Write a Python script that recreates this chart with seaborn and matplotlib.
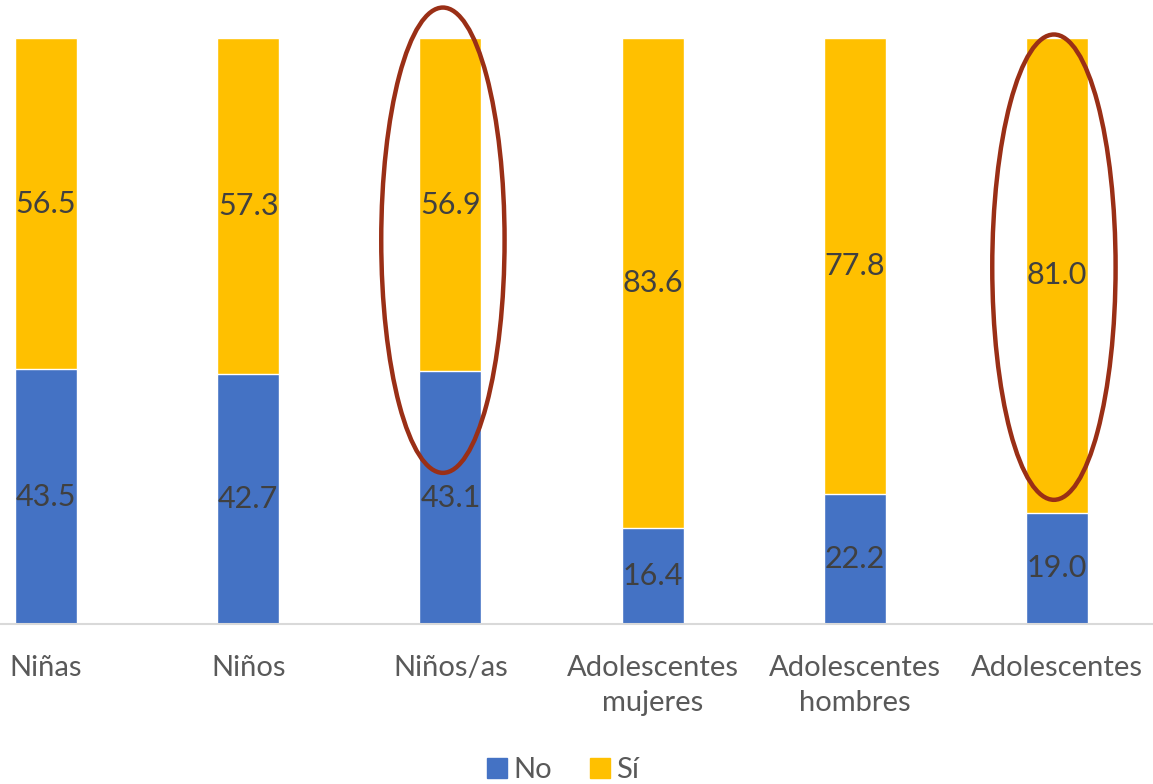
import matplotlib
matplotlib.use("Agg")
import matplotlib.pyplot as plt
from matplotlib.patches import Ellipse
from matplotlib.lines import Line2D
import numpy as np
import pandas as pd
import seaborn as sns

# datos
categorias = ['Niñas', 'Niños', 'Niños/as', 'Adolescentes\nmujeres', 'Adolescentes\nhombres', 'Adolescentes']
valores_no = [43.5, 42.7, 43.1, 16.4, 22.2, 19.0]
valores_si = [56.5, 57.3, 56.9, 83.6, 77.8, 81.0]

COLOR_NO = '#4472C4'
COLOR_SI = '#FFC000'
COLOR_TXT = '#404040'
COLOR_ELIPSE = '#9A2F16'

sns.set_style('white')
plt.rcParams['font.family'] = ['Lato', 'DejaVu Sans']

df = pd.DataFrame({'cat': categorias, 'No': valores_no, 'Si': valores_si})
df['total'] = df['No'] + df['Si']

fig = plt.figure(figsize=(11.53, 7.84), dpi=100)
ax = fig.add_axes([0, 0.204, 1, 0.7475])

# barras apiladas: total en amarillo, "No" encima desde la base
sns.barplot(data=df, x='cat', y='total', color=COLOR_SI, width=0.307, saturation=1, ax=ax)
sns.barplot(data=df, x='cat', y='No', color=COLOR_NO, width=0.307, saturation=1, ax=ax)

for i, (n, s) in enumerate(zip(valores_no, valores_si)):
    ax.text(i, n / 2, f'{n:.1f}', ha='center', va='center', fontsize=22, color=COLOR_TXT)
    ax.text(i, n + s / 2, f'{s:.1f}', ha='center', va='center', fontsize=22, color=COLOR_TXT)

ax.set_xlim(-0.2275, 5.475)
ax.set_ylim(0, 100)
ax.set_xlabel('')
ax.set_ylabel('')
ax.set_yticks([])
ax.tick_params(axis='x', length=0, labelsize=21, labelcolor='#595959', pad=22)
for lbl in ax.get_xticklabels():
    lbl.set_linespacing(1.45)
for side in ['left', 'right', 'top']:
    ax.spines[side].set_visible(False)
ax.spines['bottom'].set_color('#D9D9D9')
ax.spines['bottom'].set_linewidth(1.5)

# elipses de resaltado
for xc, yc in [(1.963, 65.5), (4.985, 60.9)]:
    e = Ellipse((xc, yc), width=0.61, height=79.4, fill=False,
                edgecolor=COLOR_ELIPSE, linewidth=3.2, clip_on=False, zorder=5)
    ax.add_patch(e)

handles = [Line2D([0], [0], marker='s', linestyle='', markersize=15, color=COLOR_NO),
           Line2D([0], [0], marker='s', linestyle='', markersize=15, color=COLOR_SI)]
leg = fig.legend(handles, ['No', 'Sí'], loc='center', bbox_to_anchor=(0.483, 0.018),
                 ncol=2, frameon=False, fontsize=21, handletextpad=-0.2,
                 columnspacing=0.9, handlelength=1.5)
for t in leg.get_texts():
    t.set_color('#595959')

fig.savefig('out.png', dpi=100)
